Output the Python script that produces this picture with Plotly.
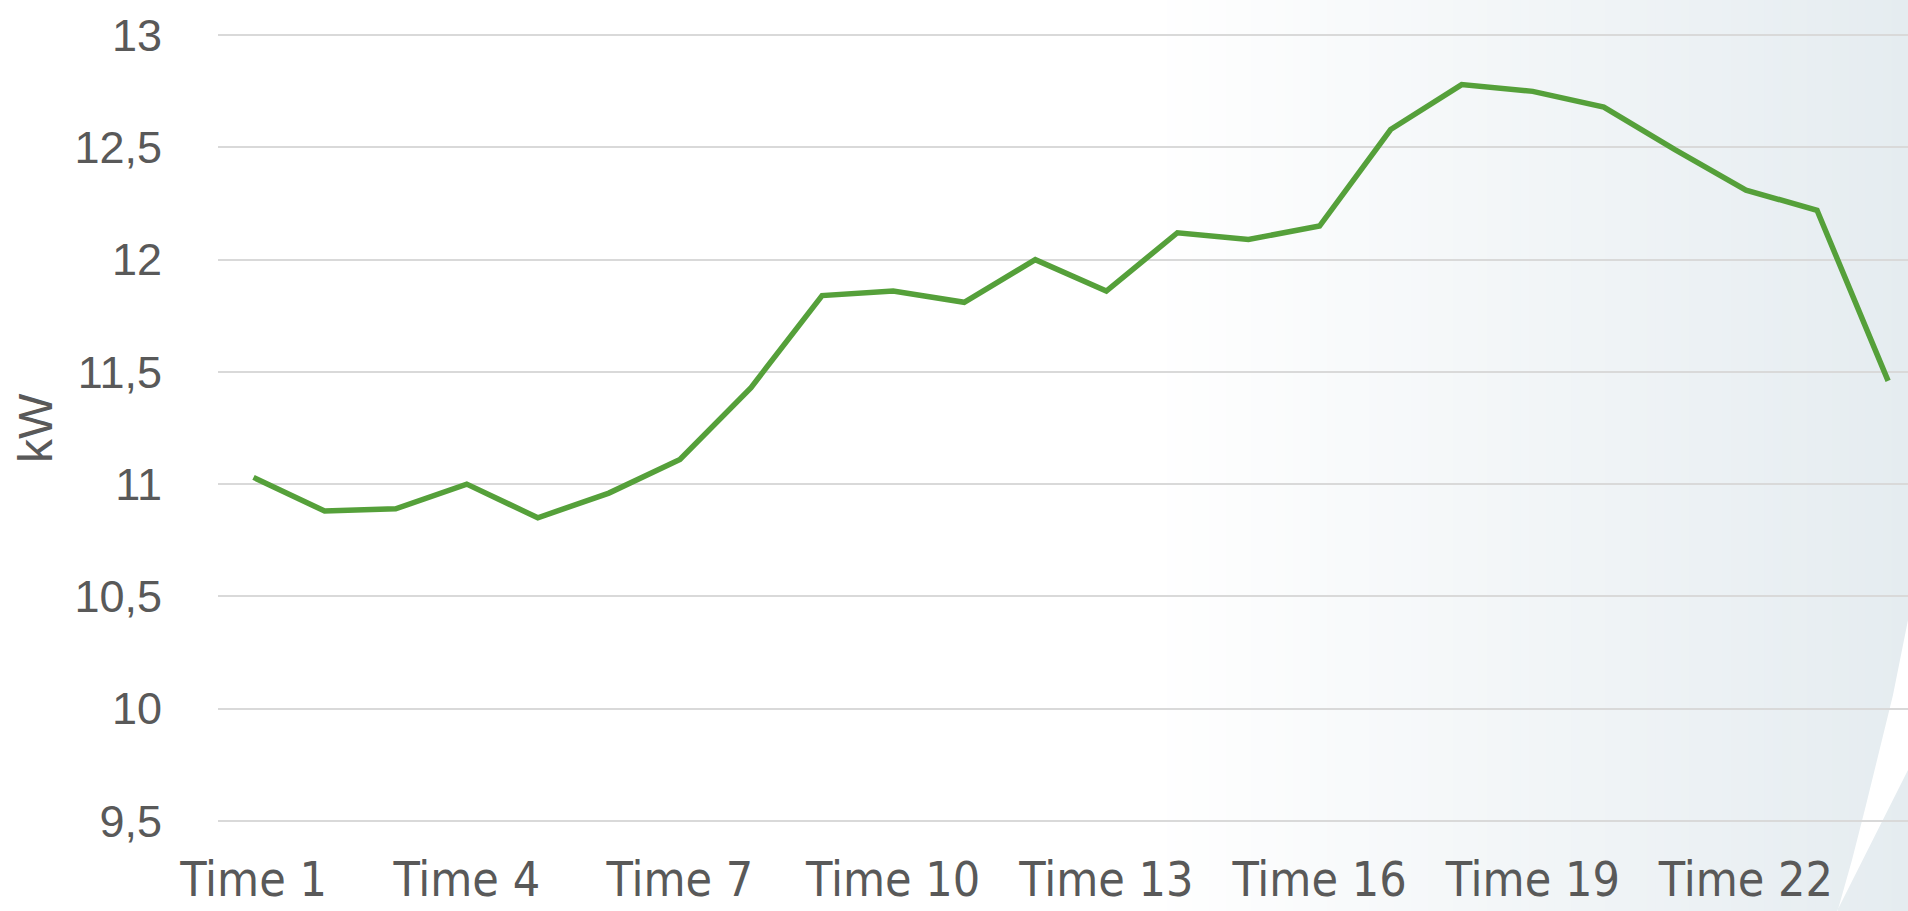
import plotly.graph_objects as go

# ---------------- data ----------------
categories = ["Time 1", "Time 2", "Time 3", "Time 4", "Time 5", "Time 6", "Time 7", "Time 8",
              "Time 9", "Time 10", "Time 11", "Time 12", "Time 13", "Time 14", "Time 15", "Time 16",
              "Time 17", "Time 18", "Time 19", "Time 20", "Time 21", "Time 22", "Time 23", "Time 24"]
kw_values = [11.03, 10.88, 10.89, 11.00, 10.85, 10.96, 11.11, 11.43,
             11.84, 11.86, 11.81, 12.00, 11.86, 12.12, 12.09, 12.15,
             12.58, 12.78, 12.75, 12.68, 12.49, 12.31, 12.22, 11.46]
x_tick_labels = ["Time 1", "Time 4", "Time 7", "Time 10", "Time 13", "Time 16", "Time 19", "Time 22"]
y_tick_values = [9.5, 10, 10.5, 11, 11.5, 12, 12.5, 13]
y_tick_labels = ["9,5", "10", "10,5", "11", "11,5", "12", "12,5", "13"]
y_title = "kW"

# ---------------- layout geometry ----------------
W, H = 1908, 911
ML, MR, MT, MB = 218, 0, 33, 88
PW, PH = W - ML - MR, H - MT - MB

def px(X):
    return (X - ML) / PW

def py(Y):
    return (H - MB - Y) / PH

TEXT = "#595959"
GRID = "#d9d9d9"
LINE = "#55a03a"

fig = go.Figure()
fig.add_trace(go.Scatter(x=categories, y=kw_values, mode="lines",
                         line=dict(color=LINE, width=5.5), hoverinfo="x+y", showlegend=False))

shapes = []
# background gradient (white -> light blue-grey) built from thin strips
g0, g1 = 1150, W
end_rgb = (229, 236, 240)
n = 90
for i in range(n):
    a = g0 + (g1 - g0) * i / n
    b = g0 + (g1 - g0) * (i + 1) / n + 1.0
    t = (i + 0.5) / n
    r = round(255 + (end_rgb[0] - 255) * t)
    g = round(255 + (end_rgb[1] - 255) * t)
    bl = round(255 + (end_rgb[2] - 255) * t)
    shapes.append(dict(type="rect", xref="paper", yref="paper", layer="below",
                       x0=px(a), x1=px(min(b, W + 2)), y0=py(H + 2), y1=py(-2),
                       line=dict(width=0), fillcolor=f"rgb({r},{g},{bl})"))
# white wedge at bottom right
wedge = [(1837, H + 2), (1852, 860), (1866, 805), (1880, 748), (1893, 695), (1908, 620),
         (1910, 620), (1910, 769), (1908, 770), (1836, H + 2)]
path = "M " + " L ".join(f"{px(X):.5f},{py(Y):.5f}" for X, Y in wedge) + " Z"
shapes.append(dict(type="path", xref="paper", yref="paper", layer="below", path=path,
                   line=dict(width=0), fillcolor="white"))

fig.update_layout(
    width=W, height=H, autosize=False,
    margin=dict(l=ML, r=MR, t=MT, b=MB, pad=0),
    paper_bgcolor="white", plot_bgcolor="rgba(0,0,0,0)",
    shapes=shapes,
    showlegend=False,
    xaxis=dict(type="category", range=[-0.5, 23.28], tickmode="array",
               tickvals=x_tick_labels, ticktext=x_tick_labels,
               showgrid=False, zeroline=False, showline=False, ticks="",
               tickfont=dict(family="Liberation Sans Narrow, DejaVu Sans Condensed, sans-serif",
                             size=48, color=TEXT),
               ticklabelstandoff=24, automargin=False, fixedrange=True),
    yaxis=dict(range=[9.49, 13.01], tickmode="array", tickvals=y_tick_values, ticktext=y_tick_labels,
               showgrid=True, gridcolor=GRID, gridwidth=1.6, zeroline=False, showline=False, ticks="",
               tickfont=dict(family="Liberation Sans, Arial, sans-serif", size=45, color=TEXT),
               ticklabelstandoff=55, automargin=False, fixedrange=True),
    annotations=[dict(text=y_title, xref="paper", yref="paper", x=px(35), y=py(428),
                      xanchor="center", yanchor="middle", textangle=-90, showarrow=False,
                      font=dict(family="Liberation Sans, Arial, sans-serif", size=48, color=TEXT))],
)

fig.write_html("out.html", config={"displayModeBar": False},
               post_script="document.body.style.margin='0';document.body.style.overflow='hidden';")
